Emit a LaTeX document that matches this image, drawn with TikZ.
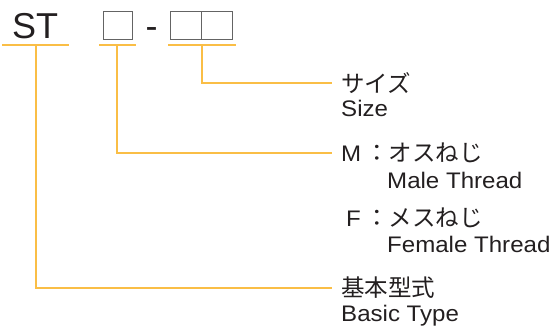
\documentclass[tikz,border=0pt]{standalone}
\usepackage{fontspec}
\setmainfont{Liberation Sans}
\newfontfamily\latfont[FakeStretch=1.07]{Liberation Sans}
\newfontfamily\jpfont{Noto Sans CJK JP}
\definecolor{leader}{RGB}{250,190,70}
\definecolor{ink}{RGB}{35,31,32}
\definecolor{boxgray}{RGB}{100,100,100}
\begin{document}
\begin{tikzpicture}[x=1pt,y=-1pt,
  lead/.style={draw=leader,line width=2pt},
  slot/.style={draw=boxgray,line width=1pt},
  big/.style={inner sep=0pt,anchor=base west,text=ink,font=\fontsize{36}{40}\selectfont},
  lat/.style={inner sep=0pt,anchor=base west,text=ink,font=\latfont\fontsize{22.5}{26}\selectfont},
  jp/.style={inner sep=0pt,anchor=base west,text=ink,font=\jpfont\fontsize{23.5}{26}\selectfont}]
\useasboundingbox (0,0) rectangle (551,329);
% code line
\node[big] (st) at (12,38.5) {ST};
\draw[slot] (103,12) rectangle (132.5,39.5);
\node[big,anchor=base] (dash) at (151.5,38.5) {-};
\draw[slot] (170.5,12) rectangle (201.5,39.5);
\draw[slot] (201.5,12) rectangle (232.5,39.5);
% underlines
\coordinate (u1a) at (2,45); \coordinate (u1b) at (69,45);
\coordinate (u2a) at (99,45); \coordinate (u2b) at (136,45);
\coordinate (u3a) at (168,45); \coordinate (u3b) at (236,45);
\draw[lead] (u1a) -- (u1b);
\draw[lead] (u2a) -- (u2b);
\draw[lead] (u3a) -- (u3b);
\coordinate (m1) at (36,45);
\coordinate (m2) at (117,45);
\coordinate (m3) at (202,45);
% labels
\node[jp] (size) at (341,92.5) {サイズ};
\node[lat] (sizeen) at (341,116) {Size};
\node[lat] (mlab) at (341,161) {M};
\node[jp] (mjp) at (365,161) {：オスねじ};
\node[lat] (men) at (387,188.3) {Male Thread};
\node[lat] (flab) at (346,226.7) {F};
\node[jp] (fjp) at (365,226.7) {：メスねじ};
\node[lat] (fen) at (387,252.3) {Female Thread};
\node[jp] (basic) at (341,296.5) {基本型式};
\node[lat] (basicen) at (341,321.7) {Basic Type};
% connectors
\coordinate (e3) at (332,83);
\coordinate (e2) at (332,153);
\coordinate (e1) at (332,288);
\draw[lead] (m3) |- (e3);
\draw[lead] (m2) |- (e2);
\draw[lead] (m1) |- (e1);
\end{tikzpicture}
\end{document}
